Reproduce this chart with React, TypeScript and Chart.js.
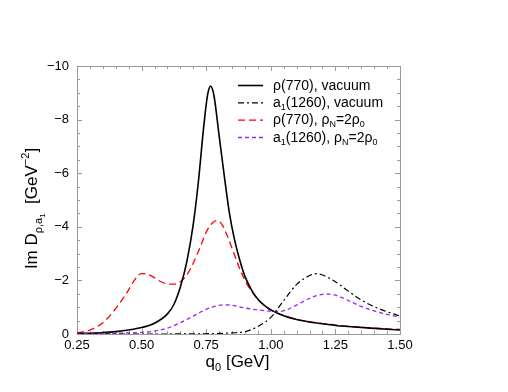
import React, { useEffect, useRef } from "react";
import { Chart, registerables } from "chart.js";

Chart.register(...registerables);

// ---- data ----
const rhoVacX = [0.25, 0.3, 0.35, 0.4, 0.45, 0.5, 0.55, 0.6, 0.625, 0.65, 0.675, 0.7, 0.72, 0.74, 0.755, 0.767, 0.78, 0.8, 0.82, 0.84, 0.86, 0.88, 0.9, 0.925, 0.95, 0.975, 1.0, 1.05, 1.1, 1.15, 1.2, 1.25, 1.3, 1.4, 1.5];
const rhoVacY = [-0.02, -0.03, -0.05, -0.09, -0.15, -0.24, -0.4, -0.75, -1.1, -1.75, -2.7, -4.1, -5.7, -7.7, -8.9, -9.25, -8.9, -7.4, -5.9, -4.5, -3.5, -2.75, -2.15, -1.65, -1.3, -1.07, -0.9, -0.68, -0.54, -0.45, -0.38, -0.32, -0.28, -0.21, -0.15];

const a1VacX = [0.25, 0.5, 0.7, 0.8, 0.85, 0.9, 0.95, 1.0, 1.05, 1.1, 1.15, 1.175, 1.2, 1.25, 1.3, 1.35, 1.4, 1.45, 1.5];
const a1VacY = [0, 0, -0.005, -0.02, -0.04, -0.09, -0.28, -0.62, -1.25, -1.85, -2.18, -2.25, -2.2, -1.95, -1.6, -1.27, -1.02, -0.83, -0.67];

const rhoMedX = [0.25, 0.3, 0.35, 0.4, 0.45, 0.475, 0.5, 0.525, 0.55, 0.575, 0.6, 0.625, 0.65, 0.675, 0.7, 0.725, 0.75, 0.775, 0.79, 0.81, 0.83, 0.85, 0.875, 0.9, 0.925, 0.95, 0.975, 1.0, 1.05, 1.1, 1.15, 1.2, 1.25, 1.3, 1.4, 1.5];
const rhoMedY = [-0.04, -0.15, -0.42, -0.95, -1.65, -2.05, -2.25, -2.22, -2.1, -1.95, -1.87, -1.86, -1.95, -2.2, -2.65, -3.2, -3.8, -4.15, -4.23, -4.1, -3.7, -3.2, -2.55, -2.0, -1.6, -1.3, -1.07, -0.9, -0.69, -0.55, -0.46, -0.39, -0.34, -0.29, -0.22, -0.17];

const a1MedX = [0.25, 0.3, 0.4, 0.5, 0.55, 0.6, 0.65, 0.7, 0.75, 0.8, 0.825, 0.85, 0.9, 0.95, 1.0, 1.03, 1.06, 1.1, 1.15, 1.2, 1.225, 1.25, 1.3, 1.35, 1.4, 1.45, 1.5];
const a1MedY = [-0.01, -0.02, -0.03, -0.06, -0.11, -0.22, -0.42, -0.67, -0.92, -1.07, -1.09, -1.07, -0.97, -0.9, -0.85, -0.84, -0.9, -1.08, -1.33, -1.48, -1.49, -1.45, -1.25, -1.03, -0.86, -0.73, -0.63];

const xTickValues = [0.25, 0.5, 0.75, 1.0, 1.25, 1.5];
const yTickValues = [-10, -8, -6, -4, -2, 0];

const FONT = "'Liberation Sans', Arial, Helvetica, sans-serif";

type Seg = { t: string; size: number; dy: number };

function measureRich(ctx: CanvasRenderingContext2D, segs: Seg[]) {
  let w = 0;
  for (const s of segs) {
    ctx.font = `${s.size}px ${FONT}`;
    w += ctx.measureText(s.t).width;
  }
  return w;
}

function drawRich(ctx: CanvasRenderingContext2D, segs: Seg[], x: number, y: number) {
  let cx = x;
  for (const s of segs) {
    ctx.font = `${s.size}px ${FONT}`;
    ctx.fillText(s.t, cx, y + s.dy);
    cx += ctx.measureText(s.t).width;
  }
  return cx - x;
}

const legendItems: { segs: Seg[]; color: string; dash: number[]; width: number }[] = [
  { segs: [{ t: "ρ(770), vacuum", size: 14, dy: 0 }], color: "#000000", dash: [], width: 1.6 },
  {
    segs: [
      { t: "a", size: 14, dy: 0 },
      { t: "1", size: 9, dy: 3 },
      { t: "(1260), vacuum", size: 14, dy: 0 },
    ],
    color: "#000000",
    dash: [6, 3, 2, 3],
    width: 1.2,
  },
  {
    segs: [
      { t: "ρ(770), ρ", size: 14, dy: 0 },
      { t: "N", size: 9, dy: 3 },
      { t: "=2ρ", size: 14, dy: 0 },
      { t: "0", size: 9, dy: 3 },
    ],
    color: "#ff0000",
    dash: [7, 4],
    width: 1.3,
  },
  {
    segs: [
      { t: "a", size: 14, dy: 0 },
      { t: "1", size: 9, dy: 3 },
      { t: "(1260), ρ", size: 14, dy: 0 },
      { t: "N", size: 9, dy: 3 },
      { t: "=2ρ", size: 14, dy: 0 },
      { t: "0", size: 9, dy: 3 },
    ],
    color: "#a020f0",
    dash: [4, 3],
    width: 1.3,
  },
];

const framePlugin = {
  id: "frameTicks",
  beforeDatasetsDraw(chart: any) {
    const { ctx, chartArea: a, scales } = chart;
    const xs = scales.x;
    const ys = scales.y;
    ctx.save();
    ctx.strokeStyle = "#9a9a9a";
    ctx.lineWidth = 1;
    ctx.setLineDash([]);
    ctx.strokeRect(a.left + 0.5, a.top + 0.5, a.right - a.left, a.bottom - a.top);
    ctx.beginPath();
    for (let i = 0; i <= 25; i++) {
      const v = 0.25 + i * 0.05;
      const px = Math.round(xs.getPixelForValue(v)) + 0.5;
      const len = i % 5 === 0 ? 5 : 3;
      ctx.moveTo(px, a.bottom);
      ctx.lineTo(px, a.bottom - len);
      ctx.moveTo(px, a.top);
      ctx.lineTo(px, a.top + len);
    }
    for (let i = 0; i <= 20; i++) {
      const v = -10 + i * 0.5;
      const py = Math.round(ys.getPixelForValue(v)) + 0.5;
      const len = i % 4 === 0 ? 5 : 3;
      ctx.moveTo(a.left, py);
      ctx.lineTo(a.left + len, py);
      ctx.moveTo(a.right, py);
      ctx.lineTo(a.right - len, py);
    }
    ctx.stroke();
    ctx.restore();
  },
  afterDraw(chart: any) {
    const { ctx, chartArea: a } = chart;
    ctx.save();
    ctx.fillStyle = "#000";
    ctx.textBaseline = "alphabetic";
    ctx.textAlign = "left";

    // x title
    const xt: Seg[] = [
      { t: "q", size: 17, dy: 0 },
      { t: "0", size: 11, dy: 4 },
      { t: " [GeV]", size: 17, dy: 0 },
    ];
    const xw = measureRich(ctx, xt);
    drawRich(ctx, xt, (a.left + a.right) / 2 - xw / 2 - 1, 367);

    // y title
    const yt: Seg[] = [
      { t: "Im D", size: 17, dy: 0 },
      { t: "ρ,a", size: 11, dy: 5 },
      { t: "1", size: 8, dy: 8 },
      { t: "  [GeV", size: 17, dy: 0 },
      { t: "−2", size: 11, dy: -8 },
      { t: "]", size: 17, dy: 0 },
    ];
    const yw = measureRich(ctx, yt);
    ctx.save();
    ctx.translate(37, 208.5);
    ctx.rotate(-Math.PI / 2);
    drawRich(ctx, yt, -yw / 2, 0);
    ctx.restore();

    // legend
    const rows = [85, 102.3, 119.6, 137];
    legendItems.forEach((it, i) => {
      const y = rows[i];
      ctx.save();
      ctx.strokeStyle = it.color;
      ctx.lineWidth = it.width;
      ctx.setLineDash(it.dash);
      ctx.beginPath();
      ctx.moveTo(238, y + 0.5);
      ctx.lineTo(263, y + 0.5);
      ctx.stroke();
      ctx.restore();
      ctx.fillStyle = "#000";
      drawRich(ctx, it.segs, 273, y + 4.8);
    });
    ctx.restore();
  },
};

function pts(xs: number[], ys: number[]) {
  return xs.map((x, i) => ({ x, y: ys[i] }));
}

export default function App() {
  const ref = useRef<HTMLCanvasElement | null>(null);

  useEffect(() => {
    if (!ref.current) return;
    const chart = new Chart(ref.current, {
      type: "line",
      data: {
        datasets: [
          {
            label: "a1(1260), vacuum",
            data: pts(a1VacX, a1VacY),
            borderColor: "#000000",
            borderWidth: 1.2,
            borderDash: [6, 3, 2, 3],
          },
          {
            label: "a1(1260), rhoN=2rho0",
            data: pts(a1MedX, a1MedY),
            borderColor: "#a020f0",
            borderWidth: 1.3,
            borderDash: [4, 3],
          },
          {
            label: "rho(770), vacuum",
            data: pts(rhoVacX, rhoVacY),
            borderColor: "#000000",
            borderWidth: 1.6,
          },
          {
            label: "rho(770), rhoN=2rho0",
            data: pts(rhoMedX, rhoMedY),
            borderColor: "#ff0000",
            borderWidth: 1.3,
            borderDash: [7, 4],
          },
        ],
      },
      options: {
        responsive: false,
        animation: false,
        events: [],
        cubicInterpolationMode: "monotone",
        elements: { point: { radius: 0 }, line: { fill: false } },
        layout: { padding: { left: 0, top: 66, right: 108, bottom: 0 } },
        plugins: { legend: { display: false }, tooltip: { enabled: false }, title: { display: false } },
        scales: {
          x: {
            type: "linear",
            min: 0.25,
            max: 1.5,
            grid: { display: false, drawTicks: false },
            border: { display: false },
            afterFit: (s: any) => {
              s.height = 58;
            },
            afterBuildTicks: (s: any) => {
              s.ticks = xTickValues.map((v) => ({ value: v }));
            },
            ticks: {
              color: "#000",
              padding: 4,
              maxRotation: 0,
              autoSkip: false,
              font: { family: FONT, size: 13 },
              callback: (v: any) => Number(v).toFixed(2),
            },
          },
          y: {
            type: "linear",
            min: -10,
            max: 0,
            reverse: true,
            grid: { display: false, drawTicks: false },
            border: { display: false },
            afterFit: (s: any) => {
              s.width = 77;
            },
            afterBuildTicks: (s: any) => {
              s.ticks = yTickValues.map((v) => ({ value: v }));
            },
            ticks: {
              color: "#000",
              padding: 8,
              autoSkip: false,
              font: { family: FONT, size: 13 },
              callback: (v: any) => (Number(v) < 0 ? "−" + String(Math.abs(Number(v))) : String(v)),
            },
          },
        },
      } as any,
      plugins: [framePlugin],
    });
    return () => chart.destroy();
  }, []);

  return (
    <div style={{ position: "absolute", left: 0, top: 0, width: 508, height: 392, background: "#fff" }}>
      <canvas ref={ref} width={508} height={392} style={{ display: "block", width: 508, height: 392 }} />
    </div>
  );
}
